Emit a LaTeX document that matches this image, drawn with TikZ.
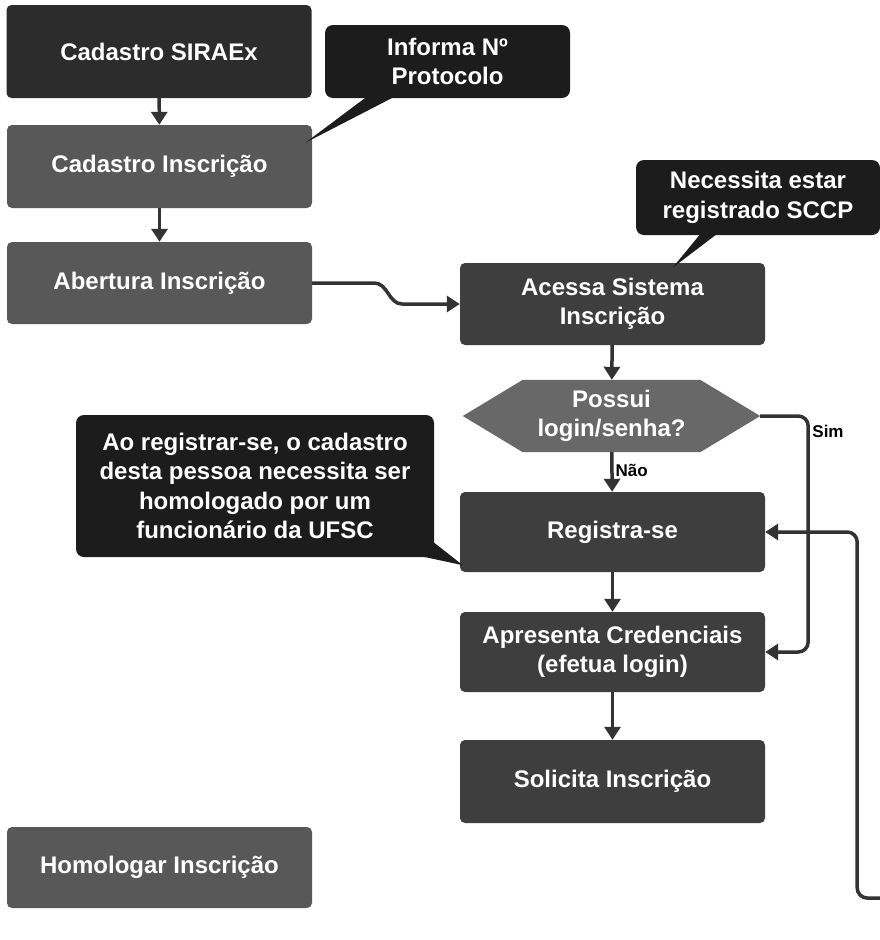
\documentclass[tikz,border=0pt]{standalone}
\usepackage{fontspec}
\setmainfont{Liberation Sans}
\usetikzlibrary{arrows.meta,backgrounds}
\definecolor{boxblack}{HTML}{2C2C2C}
\definecolor{boxdark}{HTML}{3E3E3E}
\definecolor{boxgrey}{HTML}{585858}
\definecolor{callblk}{HTML}{1C1C1C}
\definecolor{hexgrey}{HTML}{686868}
\definecolor{linec}{HTML}{333333}
\begin{document}
\begin{tikzpicture}[x=1pt,y=-1pt,
  box/.style={rectangle, rounded corners=5pt, text=white,
    font=\bfseries\fontsize{24}{29.5}\selectfont, align=center,
    inner sep=0pt, minimum width=305pt},
  callout/.style={box, fill=callblk, rounded corners=8pt},
  tail/.style={fill=callblk},
  arr/.style={draw=linec, line width=3.5pt,
    -{Triangle[length=13pt,width=16pt]}},
  lbl/.style={font=\bfseries\fontsize{17}{20}\selectfont, text=black, inner sep=2pt}
]
\useasboundingbox (0,0) rectangle (880,940);
% left column
\node[box, fill=boxblack, minimum height=93pt] (sir) at (159,51.5) {Cadastro SIRAEx};
\node[box, fill=boxgrey, minimum height=83pt] (cins) at (159.5,166.5) {Cadastro Inscrição};
\node[box, fill=boxgrey, minimum height=82pt] (aber) at (159.5,283) {Abertura Inscrição};
\node[box, fill=boxgrey, minimum height=81pt] (hom) at (159.5,867.5) {Homologar Inscrição};
% callouts
\node[callout, minimum width=245pt, minimum height=73pt] (inf) at (447.5,61.5) {Informa Nº\\Protocolo};
\node[callout, minimum width=244pt, minimum height=75pt] (nec) at (758,197.5) {Necessita estar\\registrado SCCP};
\node[callout, minimum width=358pt, minimum height=142pt] (ao) at (255,486) {Ao registrar-se, o cadastro\\desta pessoa necessita ser\\homologado por um\\funcionário da UFSC};
% right column
\node[box, fill=boxdark, minimum height=82pt] (aces) at (612.5,304) {Acessa Sistema\\Inscrição};
\node[rectangle, text=white, font=\bfseries\fontsize{24}{29.5}\selectfont, align=center,
  inner sep=0pt, minimum width=297pt, minimum height=72pt] (poss) at (611.5,416) {Possui\\login/senha?};
\node[box, fill=boxdark, minimum height=80pt] (reg) at (612.5,532) {Registra-se};
\node[box, fill=boxdark, minimum height=80pt] (apr) at (612.5,652) {Apresenta Credenciais\\(efetua login)};
\node[box, fill=boxdark, minimum height=83pt] (sol) at (612.5,781.5) {Solicita Inscrição};
\begin{scope}[on background layer]
  \fill[white] (0,0) rectangle (880,940);
  \fill[hexgrey] (poss.west) -- ([shift={(60,0)}]poss.north west) -- ([shift={(-60,0)}]poss.north east)
    -- (poss.east) -- ([shift={(-60,0)}]poss.south east) -- ([shift={(60,0)}]poss.south west) -- cycle;
\end{scope}
% callout tails
\fill[tail] ([shift={(-80,-2)}]inf.south) -- ([shift={(-52,-2)}]inf.south) -- ([shift={(-7,18)}]cins.north east) -- cycle;
\fill[tail] ([shift={(-57,-2)}]nec.south) -- ([shift={(-40,-2)}]nec.south) -- ([shift={(60,5)}]aces.north) -- cycle;
\fill[tail] ([shift={(-18,-2)}]ao.south east) -- ([shift={(-2,-16)}]ao.south east) -- ([shift={(3,-7)}]reg.south west) -- cycle;
% connectors
\draw[arr] (sir) -- (cins);
\draw[arr] (cins) -- (aber);
\draw[arr] (aber.east) -- ++(62,0) to[out=0,in=180] ++(28,21) -- (aces.west);
\draw[arr] (aces) -- (poss);
\draw[arr] (poss) -- node[lbl, right, pos=0.45] {Não} (reg);
\draw[arr, rounded corners=10pt] (poss.east) -- ++(48,0) |- (apr.east);
\node[lbl] (sim) at (828,431) {Sim};
\draw[arr] (reg) -- (apr);
\draw[arr] (apr) -- (sol);
\coordinate (free) at (882,898);
\draw[arr, rounded corners=10pt] (free) -| ([shift={(92,0)}]reg.east) -- (reg.east);
\end{tikzpicture}
\end{document}
